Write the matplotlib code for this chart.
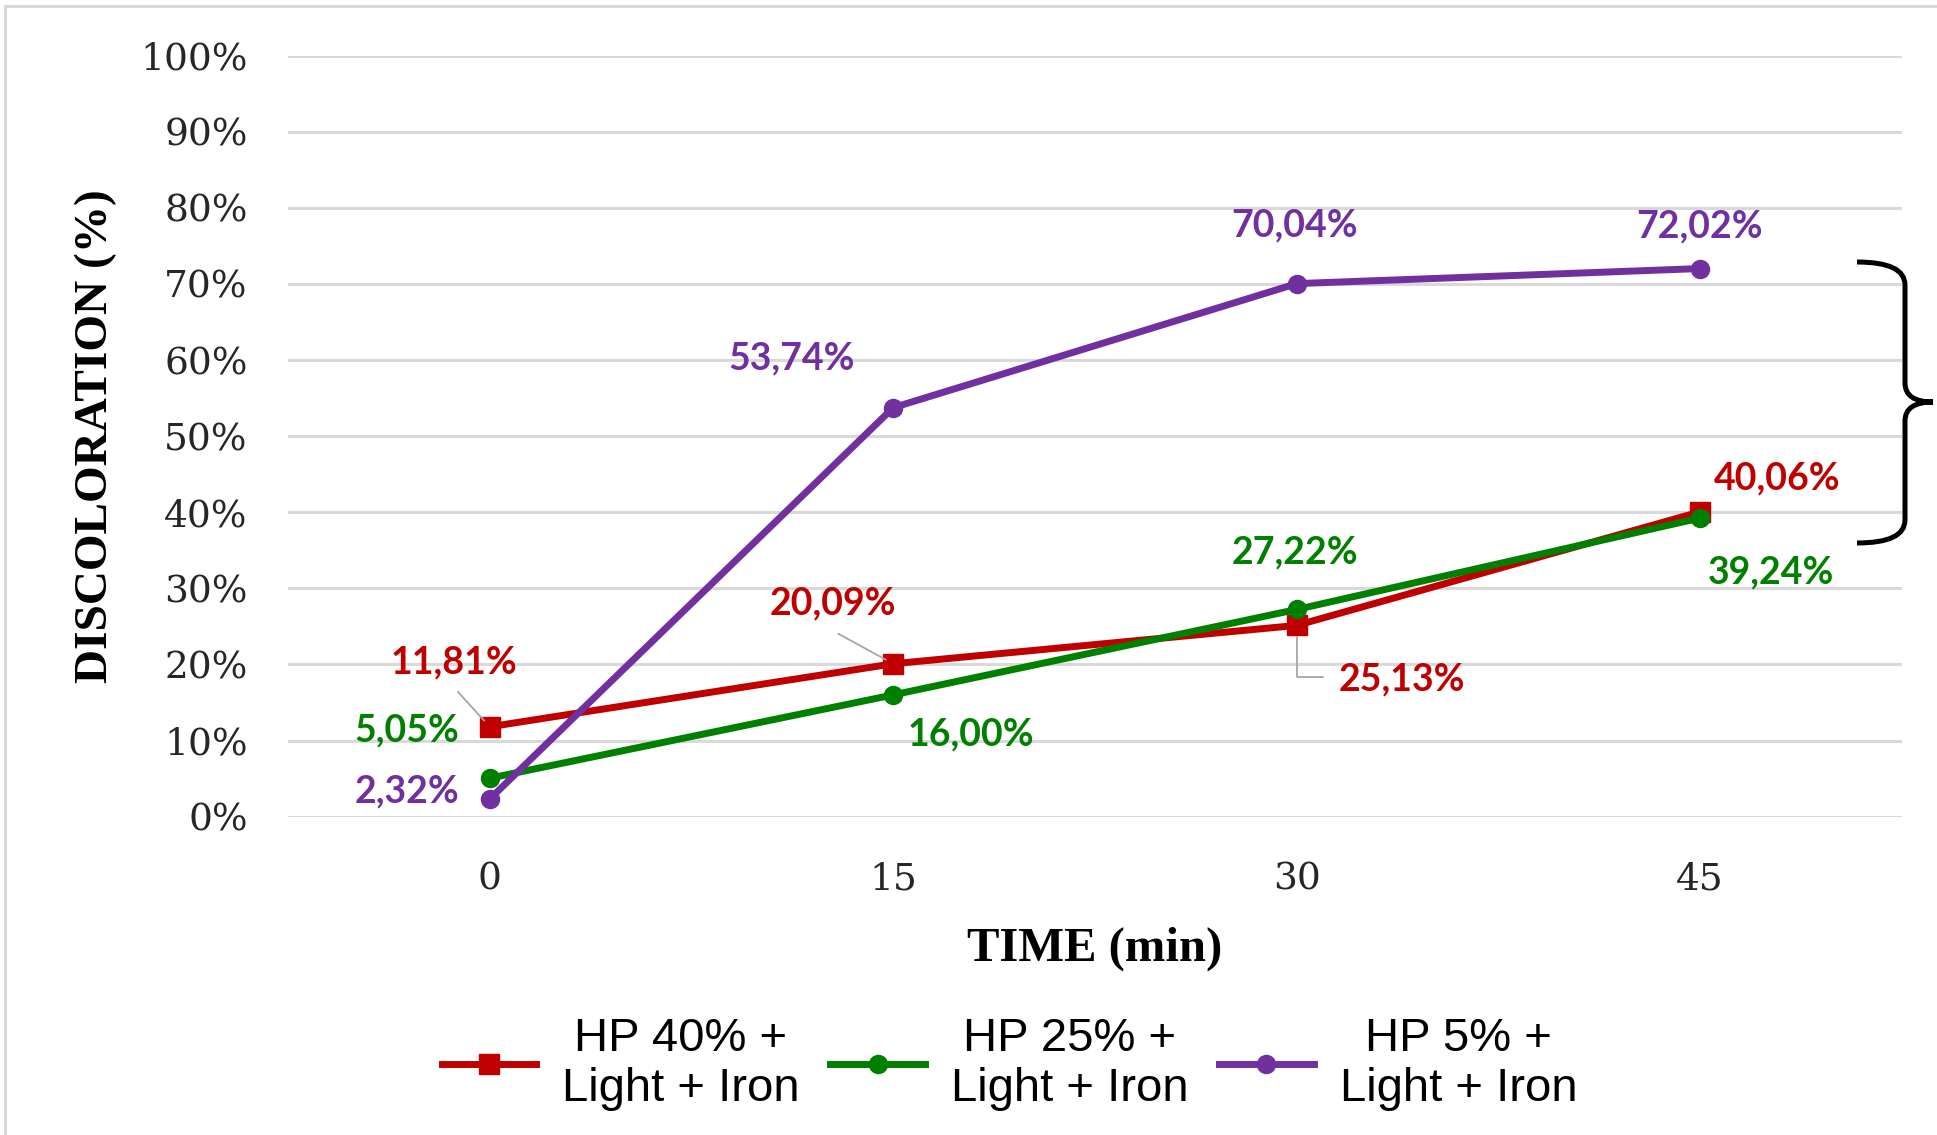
import matplotlib.pyplot as plt
from matplotlib.path import Path
from matplotlib.patches import PathPatch
from matplotlib.lines import Line2D

# data
times = ["0", "15", "30", "45"]
hp40 = [11.81, 20.09, 25.13, 40.06]
hp25 = [5.05, 16.00, 27.22, 39.24]
hp5 = [2.32, 53.74, 70.04, 72.02]
series_names = ["HP 40% +\nLight + Iron", "HP 25% +\nLight + Iron", "HP 5% +\nLight + Iron"]
yticks = [0, 10, 20, 30, 40, 50, 60, 70, 80, 90, 100]

# label offsets (pixels) from each point
off40 = [(-36, 64), (-60, 60), (105, -54), (77, 33)]
off25 = [(-83, 48), (78, -40), (-2, 57), (71, -54)]
off5 = [(-83, 7), (-102, 49), (-2, 58), (-1, 42)]

red = "#C00000"
green = "#008000"
purple = "#7030A0"

fig = plt.figure(figsize=(19.37, 11.35), dpi=100)
ax = fig.add_axes([0.1487, 0.2805, 0.8332, 0.6705])

x = list(range(len(times)))
ax.plot(x, [v / 100 for v in hp40], color=red, lw=5, marker="s", ms=15,
        label=series_names[0], zorder=3)
ax.plot(x, [v / 100 for v in hp25], color=green, lw=5, marker="o", ms=13,
        label=series_names[1], zorder=4)
ax.plot(x, [v / 100 for v in hp5], color=purple, lw=5, marker="o", ms=13,
        label=series_names[2], zorder=5)

ax.set_xlim(-0.5, 3.5)
ax.set_ylim(0, 1.0)
ax.set_xticks(x)
ax.set_xticklabels(times, fontfamily="DejaVu Serif", fontsize=27, color="#262626")
ax.set_yticks([t / 100 for t in yticks])
ax.set_yticklabels([f"{t}%" for t in yticks], fontfamily="DejaVu Serif", fontsize=27,
                   color="#262626")
ax.tick_params(axis="both", length=0)
ax.tick_params(axis="y", pad=29)
ax.tick_params(axis="x", pad=32)
for s in ax.spines.values():
    s.set_visible(False)
ax.grid(axis="y", color="#D9D9D9", lw=2.2, zorder=0)
ax.set_axisbelow(True)

ax.set_xlabel("TIME (min)", fontfamily="Liberation Serif", fontweight="bold", fontsize=35)
ax.xaxis.set_label_coords(0.5, -0.174)
ax.xaxis.label.set_va("center")
ax.set_ylabel("DISCOLORATION (%)", fontfamily="Liberation Serif", fontweight="bold", fontsize=34)
ax.yaxis.set_label_coords(-0.119, 0.5)
ax.yaxis.label.set_va("center")

def fmt(v):
    return f"{v:.2f}%".replace(".", ",")

for vals, offs, col in [(hp40, off40, red), (hp25, off25, green), (hp5, off5, purple)]:
    for i, (v, (dx, dy)) in enumerate(zip(vals, offs)):
        ax.annotate(fmt(v), (i, v / 100), xytext=(dx, dy), textcoords="offset pixels",
                    ha="center", va="center", color=col, fontfamily="Lato",
                    fontweight="bold", fontsize=27, zorder=6)

# leader lines for crowded red labels
lead = dict(arrowstyle="-", color="#A6A6A6", lw=1.3)
ax.annotate("", (0, hp40[0] / 100), xytext=(-32, 35), textcoords="offset pixels",
            arrowprops=dict(lead, shrinkA=0, shrinkB=6))
ax.annotate("", (1, hp40[1] / 100), xytext=(-55, 30), textcoords="offset pixels",
            arrowprops=dict(lead, shrinkA=0, shrinkB=6))
ax.annotate("", (2, hp40[2] / 100), xytext=(26, -52), textcoords="offset pixels",
            arrowprops=dict(lead, shrinkA=0, shrinkB=8,
                            connectionstyle="angle,angleA=0,angleB=90,rad=0"))

leg = ax.legend(loc="center", bbox_to_anchor=(0.447, -0.325), ncol=3, frameon=False,
                prop={"family": "Liberation Sans", "size": 34},
                handlelength=2.0, handletextpad=0.55, columnspacing=0.65)
for t in leg.get_texts():
    t.set_multialignment("center")

# brace on the right (figure pixels)
H = 1135.0
W = 1937.0
pts = [(1857, 262), (1905, 262), (1905, 285), (1905, 383), (1905, 402), (1933, 402),
       (1905, 402), (1905, 421), (1905, 520), (1905, 543), (1857, 543)]
codes = [Path.MOVETO, Path.CURVE3, Path.CURVE3, Path.LINETO, Path.CURVE3, Path.CURVE3,
         Path.CURVE3, Path.CURVE3, Path.LINETO, Path.CURVE3, Path.CURVE3]
verts = [(px / W, 1 - py / H) for px, py in pts]
fig.add_artist(PathPatch(Path(verts, codes), transform=fig.transFigure,
                         fill=False, lw=3.6, color="black", capstyle="butt"))

# chart frame (top and left edges visible)
fig.add_artist(Line2D([4.5 / W, 1], [1 - 6 / H, 1 - 6 / H], transform=fig.transFigure,
                      color="#D9D9D9", lw=2.2))
fig.add_artist(Line2D([4.5 / W, 4.5 / W], [0, 1 - 6 / H], transform=fig.transFigure,
                      color="#D9D9D9", lw=2.2))

fig.savefig("out.png", dpi=100)
